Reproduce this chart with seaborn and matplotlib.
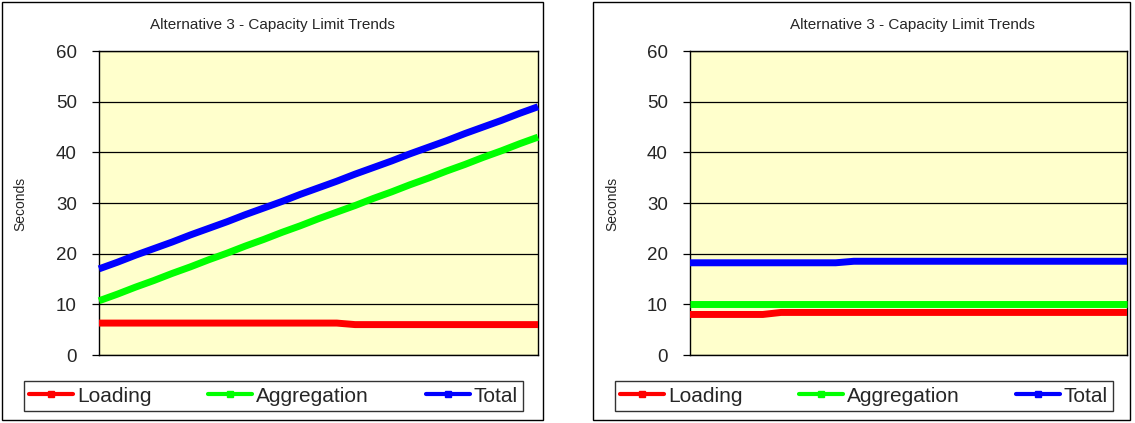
import matplotlib
matplotlib.use("Agg")
import matplotlib.pyplot as plt
from matplotlib.lines import Line2D
from matplotlib.patches import Rectangle
import pandas as pd
import seaborn as sns

# ---- data -------------------------------------------------------------
series_names = ["Loading", "Aggregation", "Total"]
series_colors = ["#FF0000", "#00FF00", "#0000FF"]

left_loading = [6.3, 6.3, 6.3, 6.3, 6.3, 6.3, 6.3, 6.3, 6.3, 6.3, 6.3, 6.3, 6.3,
                6.3, 6.0, 6.0, 6.0, 6.0, 6.0, 6.0, 6.0, 6.0, 6.0, 6.0, 6.0]
left_aggregation = [10.7, 12.0, 13.4, 14.7, 16.1, 17.4, 18.8, 20.1, 21.5, 22.8,
                    24.2, 25.5, 26.9, 28.2, 29.5, 30.9, 32.2, 33.6, 34.9, 36.3,
                    37.6, 39.0, 40.3, 41.7, 43.0]
left_total = [17.0, 18.3, 19.7, 21.0, 22.3, 23.7, 25.0, 26.3, 27.7, 29.0, 30.3,
              31.7, 33.0, 34.3, 35.7, 37.0, 38.3, 39.7, 41.0, 42.3, 43.7, 45.0,
              46.3, 47.7, 49.0]

right_loading = [8.0, 8.0, 8.0, 8.0, 8.0, 8.4, 8.4, 8.4, 8.4, 8.4, 8.4, 8.4, 8.4,
                 8.4, 8.4, 8.4, 8.4, 8.4, 8.4, 8.4, 8.4, 8.4, 8.4, 8.4, 8.4]
right_aggregation = [10.1, 10.1, 10.1, 10.1, 10.1, 10.1, 10.1, 10.1, 10.1, 10.1,
                     10.1, 10.1, 10.1, 10.1, 10.1, 10.1, 10.1, 10.1, 10.1, 10.1,
                     10.1, 10.1, 10.1, 10.1, 10.1]
right_total = [18.2, 18.2, 18.2, 18.2, 18.2, 18.2, 18.2, 18.2, 18.2, 18.5, 18.5,
               18.5, 18.5, 18.5, 18.5, 18.5, 18.5, 18.5, 18.5, 18.5, 18.5, 18.5,
               18.5, 18.5, 18.5]

y_ticks = [0, 10, 20, 30, 40, 50, 60]
chart_title = "Alternative 3 - Capacity Limit Trends"
y_label = "Seconds"


def to_frame(loading, aggregation, total):
    rows = []
    for name, vals in zip(series_names, [loading, aggregation, total]):
        for i, v in enumerate(vals):
            rows.append({"step": i, "series": name, "seconds": v})
    return pd.DataFrame(rows)


sns.set_style("white")
plt.rcParams["font.family"] = ["Liberation Sans", "DejaVu Sans"]

W, H = 1135, 423
fig = plt.figure(figsize=(W / 100, H / 100), dpi=100)
fig.patch.set_facecolor("white")

panels = [
    dict(data=(left_loading, left_aggregation, left_total),
         box=(2, 2, 543, 420), axes=(99, 51, 538, 355),
         title_x=272, ylab_x=20, legend=(24, 379, 523, 413)),
    dict(data=(right_loading, right_aggregation, right_total),
         box=(593, 2, 1130, 420), axes=(690, 51, 1127, 355),
         title_x=912, ylab_x=612, legend=(615, 379, 1113, 413)),
]

for p in panels:
    bx0, by0, bx1, by1 = p["box"]
    fig.patches.append(Rectangle((bx0 / W, 1 - by1 / H), (bx1 - bx0) / W,
                                 (by1 - by0) / H, transform=fig.transFigure,
                                 fill=False, edgecolor="black", linewidth=1.0))

    ax0, ay0, ax1, ay1 = p["axes"]
    ax = fig.add_axes([ax0 / W, 1 - ay1 / H, (ax1 - ax0) / W, (ay1 - ay0) / H])
    ax.set_facecolor("#FFFFCC")

    df = to_frame(*p["data"])
    sns.lineplot(data=df, x="step", y="seconds", hue="series",
                 hue_order=series_names, palette=series_colors,
                 linewidth=5, legend=False, ax=ax, zorder=3,
                 solid_capstyle="butt")
    for ln in ax.lines:
        ln.set_clip_on(False)

    n = len(p["data"][0])
    ax.set_xlim(0, n - 1)
    ax.set_ylim(0, 60)
    ax.set_yticks(y_ticks)
    ax.set_yticklabels([str(t) for t in y_ticks], fontsize=13.5)
    ax.set_xticks([])
    ax.grid(axis="y", color="black", linewidth=0.9, zorder=1)
    ax.set_axisbelow(True)
    ax.tick_params(axis="y", direction="out", length=5, width=0.9,
                   color="black", pad=11, left=True)
    for s in ax.spines.values():
        s.set_visible(True)
        s.set_color("black")
        s.set_linewidth(1.0)
    ax.set_xlabel("")
    ax.set_ylabel("")

    fig.text(p["title_x"] / W, 1 - 25 / H, chart_title, ha="center",
             va="center", fontsize=11)
    fig.text(p["ylab_x"] / W, 1 - 204 / H, y_label, rotation=90,
             ha="center", va="center", fontsize=10)

    lx0, ly0, lx1, ly1 = p["legend"]
    handles = [Line2D([], [], color=c, linewidth=3, marker="s",
                      markersize=5) for c in series_colors]
    leg = fig.legend(handles, series_names, loc="center",
                     bbox_to_anchor=(lx0 / W, 1 - ly1 / H, (lx1 - lx0) / W,
                                     (ly1 - ly0) / H),
                     bbox_transform=fig.transFigure, ncol=3, mode="expand",
                     fontsize=15, frameon=True, fancybox=False,
                     edgecolor="#333333", framealpha=1, borderaxespad=0,
                     handlelength=2.1, handletextpad=0.2, borderpad=0.25,
                     columnspacing=1.0)
    leg.get_frame().set_linewidth(1.0)

fig.savefig("out.png", dpi=100, facecolor="white")
